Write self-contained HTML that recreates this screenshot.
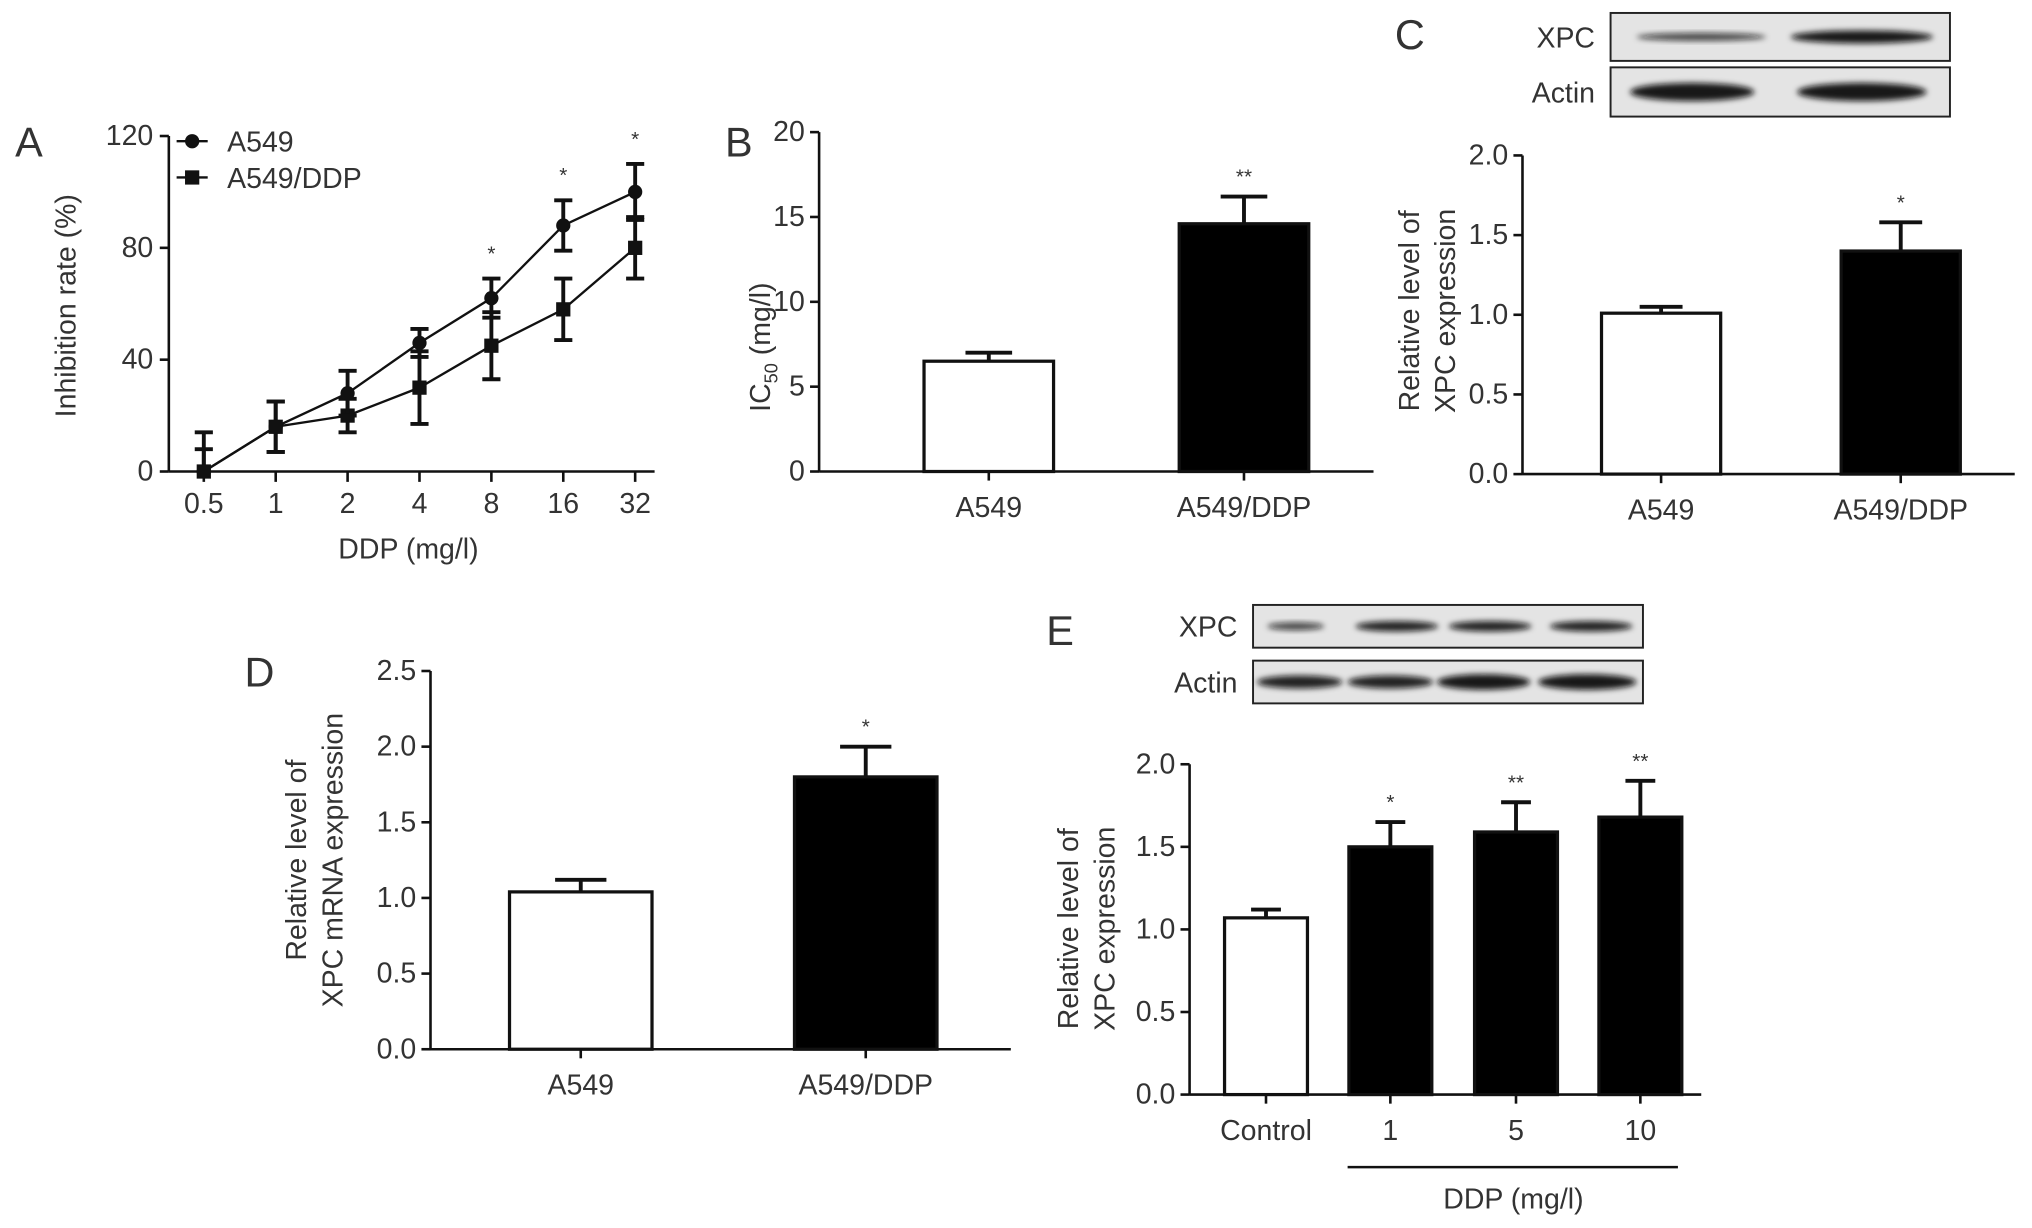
<!DOCTYPE html>
<html><head><meta charset="utf-8"><style>
html,body{margin:0;padding:0;background:#fff;}
svg{display:block;}
text{font-family:"Liberation Sans",sans-serif;fill:#333;}
</style></head><body>
<svg id="fig" width="2032" height="1228" viewBox="0 0 1568 948" xmlns="http://www.w3.org/2000/svg">
<defs><filter id="blur" x="-20%" y="-50%" width="140%" height="200%"><feGaussianBlur stdDeviation="2.2"/></filter></defs>
</svg>
<script>
// Panel A data
const aCats=['0.5','1','2','4','8','16','32'];
const aVals1=[0,16,28,46,62,88,100];
const aErr1=[14,9,8,5,7,9,10];
const aVals2=[0,16,20,30,45,58,80];
const aErr2=[8,9,6,13,12,11,11];
const aStars=['','','','','*','*','*'];
const aTicks=[0,40,80,120];
// Panel B
const bCats=['A549','A549/DDP'];
const bVals=[6.5,14.6];
const bErr=[0.5,1.6];
const bStars=['','**'];
const bTicks=[0,5,10,15,20];
// Panel C
const cCats=['A549','A549/DDP'];
const cVals=[1.01,1.4];
const cErr=[0.04,0.18];
const cStars=['','*'];
const cTicks=['0.0','0.5','1.0','1.5','2.0'];
// Panel D
const dCats=['A549','A549/DDP'];
const dVals=[1.04,1.8];
const dErr=[0.08,0.2];
const dStars=['','*'];
const dTicks=['0.0','0.5','1.0','1.5','2.0','2.5'];
// Panel E
const eCats=['Control','1','5','10'];
const eVals=[1.07,1.5,1.59,1.68];
const eErr=[0.05,0.15,0.18,0.22];
const eStars=['','*','**','**'];
const eTicks=['0.0','0.5','1.0','1.5','2.0'];

const svg=document.getElementById('fig');
const NS='http://www.w3.org/2000/svg';
const FS=22;
function mk(tag,attrs,parent){const e=document.createElementNS(NS,tag);for(const k in attrs)e.setAttribute(k,attrs[k]);(parent||svg).appendChild(e);return e;}
function txt(x,y,s,size,anchor,parent,name){const t=mk('text',{x:x,y:y,'font-size':size,'text-anchor':anchor||'middle'},parent);t.textContent=s;


return t;}
function line(x1,y1,x2,y2,w,parent){return mk('line',{x1:x1,y1:y1,x2:x2,y2:y2,stroke:'#111','stroke-width':w||2},parent);}
function group(name){const g=mk('g',{});


return g;}
function errBar(g,x,y1,y2,cap,capBottom){line(x,y1,x,y2,3,g);line(x-cap,y1,x+cap,y1,3,g);if(capBottom!==false)line(x-cap,y2,x+cap,y2,3,g);}

// Panel A
(function(){
const g=group('panel-a');
const x0=130,y0=364,yTop=105,xEnd=505,maxV=120;
const ys=v=>y0-(v/maxV)*(y0-yTop);
const xs=i=>157+i*55.5;
txt(22,121,'A',32,'middle',g,'panel-letter-a');
line(x0,yTop,x0,y0,2,g);line(x0,y0,xEnd,y0,2,g);
aTicks.forEach(t=>{line(x0-7,ys(t),x0,ys(t),2,g);txt(x0-12,ys(t)+7,String(t),FS,'end',g,'y-tick-label');});
aCats.forEach((c,i)=>{line(xs(i),y0,xs(i),y0+8,2,g);txt(xs(i),y0+32,c,FS,'middle',g,'x-tick-label');});
txt(315,431,'DDP (mg/l)',FS,'middle',g,'x-axis-title');
const yt=txt(0,0,'Inhibition rate (%)',FS,'middle',g,'y-axis-title');yt.setAttribute('transform','translate(58,236) rotate(-90)');
[[aVals2,aErr2,'sq'],[aVals1,aErr1,'ci']].forEach(([vals,errs,m])=>{
 const pts=vals.map((v,i)=>xs(i)+','+ys(v)).join(' ');
 const pl=mk('polyline',{points:pts,fill:'none',stroke:'#111','stroke-width':1.8},g);
 
 
 vals.forEach((v,i)=>{const lo=Math.max(0,v-errs[i]);errBar(g,xs(i),ys(v+errs[i]),ys(lo),7,v-errs[i]>=0);
  let p;if(m=='ci')p=mk('circle',{cx:xs(i),cy:ys(v),r:5.5,fill:'#111'},g);else p=mk('rect',{x:xs(i)-5.5,y:ys(v)-5.5,width:11,height:11,fill:'#111'},g);
  
  
 });
});
aStars.forEach((s,i)=>{if(s)txt(xs(i),ys(aVals1[i]+aErr1[i])-14,s,16,'middle',g,'significance-star');});
line(136,109,160,109,1.8,g);mk('circle',{cx:148,cy:109,r:5.5,fill:'#111'},g);txt(175,117,'A549',FS,'start',g,'legend-a549');
line(136,137,160,137,1.8,g);mk('rect',{x:142.5,y:131.5,width:11,height:11,fill:'#111'},g);txt(175,145,'A549/DDP',FS,'start',g,'legend-a549-ddp');
})();

function barPanel(name,cfg){
const g=group(name);
const {x0,y0,yTop,xEnd,maxV,ticks,cats,vals,errs,stars,centers,bw,fills}=cfg;
const ys=v=>y0-(v/maxV)*(y0-yTop);
line(x0,yTop,x0,y0,2,g);line(x0,y0,xEnd,y0,2,g);
ticks.forEach(t=>{const v=parseFloat(t);line(x0-7,ys(v),x0,ys(v),2,g);txt(x0-11,ys(v)+7,t,FS,'end',g,'y-tick-label');});
cats.forEach((c,i)=>{const cx=centers[i];
 errBar(g,cx,ys(vals[i]+errs[i]),ys(vals[i]),bw*0.18,false);
 const r=mk('rect',{x:cx-bw/2,y:ys(vals[i]),width:bw,height:y0-ys(vals[i]),fill:fills[i],stroke:'#111','stroke-width':2.5},g);
 
 
 line(cx,y0,cx,y0+7,2,g);
 txt(cx,y0+35,c,FS,'middle',g,'x-tick-label');
 if(stars[i])txt(cx,ys(vals[i]+errs[i])-10,stars[i],16,'middle',g,'significance-star');
});
return g;}

// B
const gB=barPanel('panel-b',{x0:632,y0:364,yTop:102,xEnd:1060,maxV:20,ticks:bTicks.map(String),cats:bCats,vals:bVals,errs:bErr,stars:bStars,centers:[763,960],bw:100,fills:['#fff','#000']});
txt(570,121,'B',32,'middle',gB,'panel-letter-b');
(function(){const t=mk('text',{transform:'translate(594,268) rotate(-90)','font-size':FS,'text-anchor':'middle'},gB);t.innerHTML='IC<tspan font-size="14" dy="6">50</tspan><tspan dy="-6"> (mg/l)</tspan>';

})();

// C
const gC=barPanel('panel-c',{x0:1175,y0:366,yTop:120,xEnd:1555,maxV:2,ticks:cTicks,cats:cCats,vals:cVals,errs:cErr,stars:cStars,centers:[1282,1467],bw:92,fills:['#fff','#000']});
txt(1088,38,'C',32,'middle',gC,'panel-letter-c');
(function(){const t=txt(0,0,'Relative level of',FS,'middle',gC,'y-axis-title');t.setAttribute('transform','translate(1095,240) rotate(-90)');
const t2=txt(0,0,'XPC expression',FS,'middle',gC,'y-axis-title');t2.setAttribute('transform','translate(1123,240) rotate(-90)');})();

// D
const gD=barPanel('panel-d',{x0:332,y0:810,yTop:518,xEnd:780,maxV:2.5,ticks:dTicks,cats:dCats,vals:dVals,errs:dErr,stars:dStars,centers:[448,668],bw:110,fills:['#fff','#000']});
txt(200,530,'D',32,'middle',gD,'panel-letter-d');
(function(){const t=txt(0,0,'Relative level of',FS,'middle',gD,'y-axis-title');t.setAttribute('transform','translate(236,664) rotate(-90)');
const t2=txt(0,0,'XPC mRNA expression',FS,'middle',gD,'y-axis-title');t2.setAttribute('transform','translate(264,664) rotate(-90)');})();

// E
const gE=barPanel('panel-e',{x0:918,y0:845,yTop:590,xEnd:1313,maxV:2,ticks:eTicks,cats:eCats,vals:eVals,errs:eErr,stars:eStars,centers:[977,1073,1170,1266],bw:64,fills:['#fff','#000','#000','#000']});
txt(818,498,'E',32,'middle',gE,'panel-letter-e');
line(1040,901,1295,901,2,gE);
txt(1168,933,'DDP (mg/l)',FS,'middle',gE,'x-group-title');
(function(){const t=txt(0,0,'Relative level of',FS,'middle',gE,'y-axis-title');t.setAttribute('transform','translate(832,717) rotate(-90)');
const t2=txt(0,0,'XPC expression',FS,'middle',gE,'y-axis-title');t2.setAttribute('transform','translate(860,717) rotate(-90)');})();

// Blots
function blot(name,x,y,w,h,label,bands){
 const g=group(name);
 mk('rect',{x:x,y:y,width:w,height:h,fill:'#e4e4e4',stroke:'#222','stroke-width':1.5},g);
 bands.forEach(b=>{const e=mk('ellipse',{cx:b[0],cy:y+h/2,rx:b[1],ry:b[2],fill:'#111','fill-opacity':b[3],filter:'url(#blur)'},g);
  
  });
 txt(x-12,y+h/2+8,label,FS,'end',g,'blot-label');
}
blot('blot-c-xpc',1243,10,262,37,'XPC',[[1313,50,3,0.75],[1437,55,5,0.95]]);
blot('blot-c-actin',1243,52,262,38,'Actin',[[1306,48,7,0.95],[1437,50,7,0.95]]);
blot('blot-e-xpc',967,467,301,33,'XPC',[[1000,22,3,0.75],[1078,32,4,0.9],[1150,32,4,0.9],[1228,32,4,0.9]]);
blot('blot-e-actin',967,510,301,33,'Actin',[[1003,33,5,0.9],[1073,33,5,0.9],[1145,36,6,0.95],[1225,38,6,0.95]]);
</script>
</body></html>
